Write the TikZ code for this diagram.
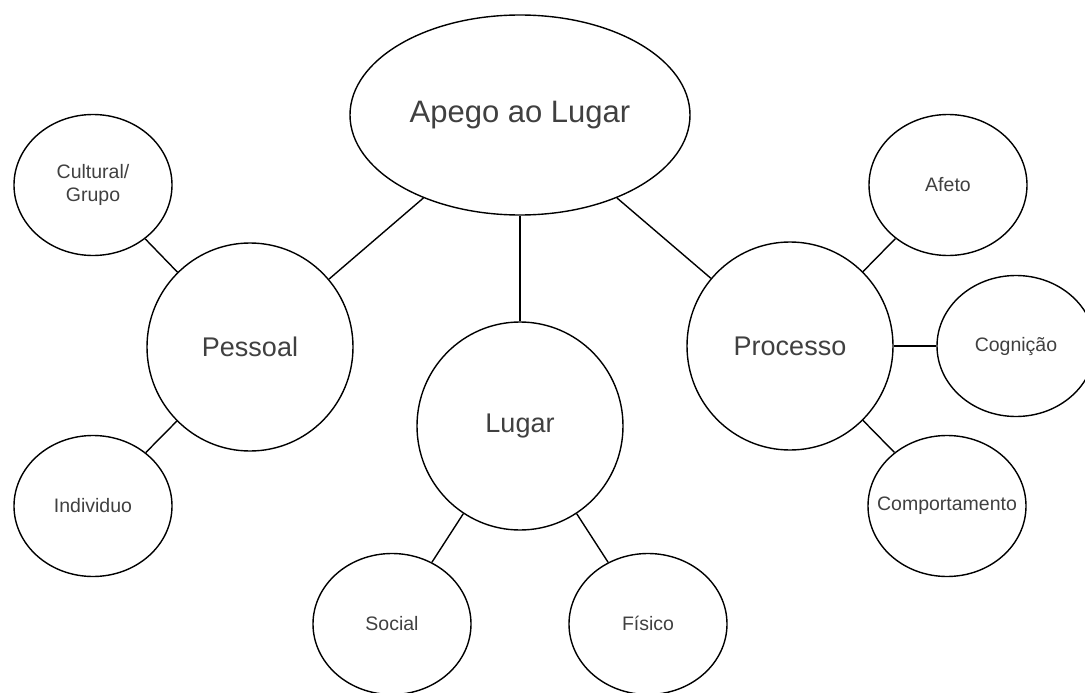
\documentclass[tikz,border=0pt]{standalone}
\usepackage{fontspec}
\setmainfont{Liberation Sans}
\usetikzlibrary{shapes.geometric}

\tikzset{
  bolha/.style={ellipse, draw, line width=1.4pt, inner sep=0pt,
    text=black!75, align=center},
  grande/.style={bolha, minimum width=206pt, minimum height=208pt,
    font=\fontsize{27}{32}\selectfont},
  pequena/.style={bolha, minimum width=158pt, minimum height=141pt,
    font=\fontsize{19.5}{23}\selectfont},
  ligacao/.style={line width=1.4pt}
}

\begin{document}
\begin{tikzpicture}[x=1pt, y=-1pt]
    \useasboundingbox (0,0) rectangle (1085,693);
    \clip (0,0) rectangle (1085,693);

    % Centro
    \node[bolha, minimum width=340pt, minimum height=200pt,
      font=\fontsize{31}{36}\selectfont] (apego) at (520,115) {Apego ao Lugar};

    % Segundo nivel
    \node[grande] (pessoal)  at (250,347) {Pessoal};
    \node[grande] (lugar)    at (520,426) {Lugar};
    \node[grande] (processo) at (790,346) {Processo};

    % Folhas
    \node[pequena] (cultural)      at (93,185)   {Cultural/\\Grupo};
    \node[pequena] (individuo)     at (93,506)   {Individuo};
    \node[pequena] (social)        at (392,624)  {Social};
    \node[pequena] (fisico)        at (648,624)  {F\smash{í}sico};
    \node[pequena] (afeto)         at (948,185)  {Afeto};
    \node[pequena] (cognicao)      at (1016,346) {Cognição};
    \node[pequena] (comportamento) at (947,506)  {\makebox[0pt]{Comportamento}};

    % Ligacoes
    \draw[ligacao] (apego) -- (pessoal);
    \draw[ligacao] (apego) -- (lugar);
    \draw[ligacao] (apego) -- (processo);
    \draw[ligacao] (pessoal) -- (cultural);
    \draw[ligacao] (pessoal) -- (individuo);
    \draw[ligacao] (lugar) -- (social);
    \draw[ligacao] (lugar) -- (fisico);
    \draw[ligacao] (processo) -- (afeto);
    \draw[ligacao] (processo) -- (cognicao);
    \draw[ligacao] (processo) -- (comportamento);
\end{tikzpicture}
\end{document}
